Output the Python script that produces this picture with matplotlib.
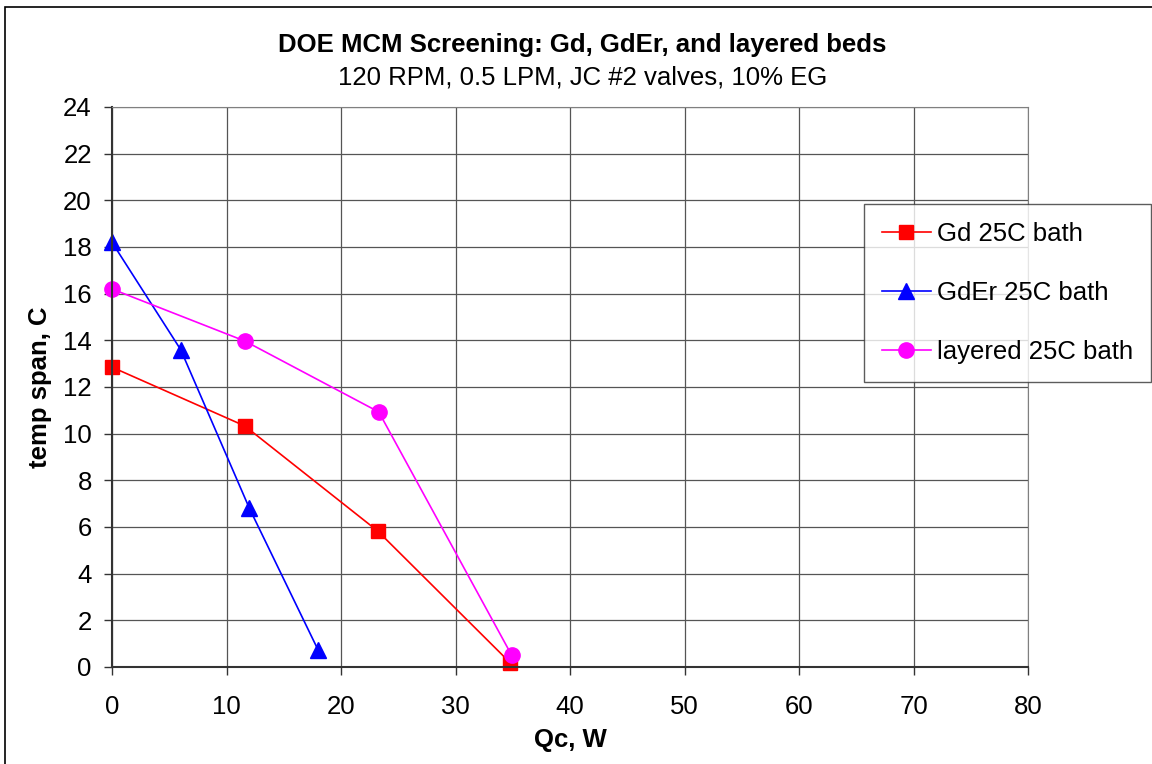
import matplotlib
matplotlib.use("Agg")
import matplotlib.pyplot as plt
from matplotlib.patches import Rectangle

plt.rcParams['font.family'] = ['Liberation Sans', 'DejaVu Sans']

gd_x = [0, 11.6, 23.2, 34.8]
gd_y = [12.85, 10.33, 5.83, 0.17]
gder_x = [0, 6.0, 12.0, 18.0]
gder_y = [18.2, 13.6, 6.8, 0.73]
lay_x = [0, 11.6, 23.3, 34.9]
lay_y = [16.2, 13.97, 10.93, 0.51]
labels = ['Gd 25C bath', 'GdEr 25C bath', 'layered 25C bath']
xticks = list(range(0, 81, 10))
yticks = list(range(0, 25, 2))

FS = 18.5

fig = plt.figure(figsize=(11.52, 7.64), dpi=100)
fig.patches.append(Rectangle((5/1152, -0.05), 1.2, 1 - 7/764 + 0.05, transform=fig.transFigure,
                             fill=False, edgecolor='black', linewidth=1.2))
ax = fig.add_axes([112/1152, 1 - 667/764, 916/1152, 560/764])

ax.plot(gd_x, gd_y, color='red', marker='s', markersize=10, linewidth=1.2, label=labels[0], clip_on=False)
ax.plot(gder_x, gder_y, color='blue', marker='^', markersize=11, linewidth=1.2, label=labels[1], clip_on=False)
ax.plot(lay_x, lay_y, color='magenta', marker='o', markersize=11, linewidth=1.2, label=labels[2], clip_on=False)

ax.set_xlim(0, 80)
ax.set_ylim(0, 24)
ax.set_xticks(xticks)
ax.set_yticks(yticks)
ax.grid(True, color='#555555', linewidth=0.9)
ax.set_axisbelow(True)
for s in ax.spines.values():
    s.set_color('#808080')
ax.spines['left'].set_color('#333333')
ax.spines['bottom'].set_color('#333333')
ax.spines['left'].set_linewidth(1.5)
ax.spines['bottom'].set_linewidth(1.5)
ax.tick_params(direction='out', length=5.5, width=1, color='#333333', labelsize=FS)
ax.tick_params(axis='y', pad=9)
ax.tick_params(axis='x', pad=15)

ax.set_xlabel('Qc, W', fontsize=FS, fontweight='bold', labelpad=6)
ax.set_ylabel('temp span, C', fontsize=FS, fontweight='bold', labelpad=8)

fig.text(582/1152, 1 - 45/764, 'DOE MCM Screening: Gd, GdEr, and layered beds', ha='center', va='center',
         fontsize=FS, fontweight='bold')
fig.text(583/1152, 1 - 77/764, '120 RPM, 0.5 LPM, JC #2 valves, 10% EG', ha='center', va='center', fontsize=FS)

leg = fig.legend(loc='upper left', bbox_to_anchor=(864/1152, 1 - 204/764), fontsize=FS,
                 frameon=True, fancybox=False, edgecolor='#333333', borderpad=0.7,
                 labelspacing=1.36, handlelength=1.9, handletextpad=0.25, borderaxespad=0)
leg.get_frame().set_linewidth(1.0)

fig.savefig('out.png', dpi=100)
